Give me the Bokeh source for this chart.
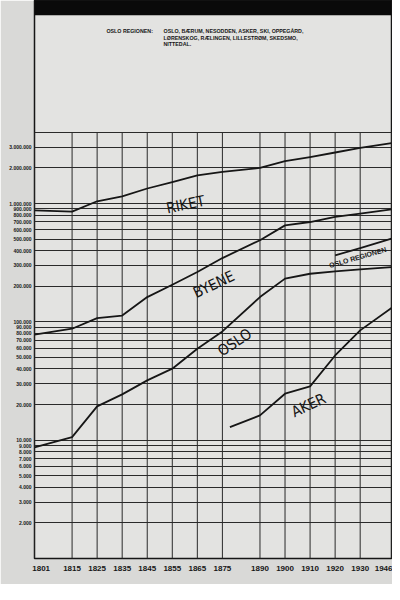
from bokeh.plotting import figure
from bokeh.models import (ColumnDataSource, FixedTicker, CustomJSTickFormatter,
                          CustomJSTransform, Range1d, BoxAnnotation)
from bokeh.transform import transform
from bokeh.core.properties import value
from bokeh.embed import file_html
from bokeh.resources import INLINE

# ---------------- data ----------------
census_years = [1801, 1815, 1825, 1835, 1845, 1855, 1865, 1875,
                1890, 1900, 1910, 1920, 1930, 1946]
riket = [875e3, 855e3, 1.045e6, 1.15e6, 1.34e6, 1.52e6, 1.73e6, 1.85e6,
         2.0e6, 2.28e6, 2.47e6, 2.7e6, 2.95e6, 3.24e6]
byene = [78e3, 87.5e3, 107.5e3, 113e3, 162e3, 206e3, 264e3, 346e3,
         490e3, 654e3, 698e3, 770e3, 822e3, 894e3]
oslo = [8.7e3, 10.6e3, 19.3e3, 24.4e3, 32e3, 40.2e3, 59.3e3, 83e3,
        162e3, 232e3, 255e3, 267e3, 278e3, 290e3]
oslo_reg_years = [1920, 1930, 1946]
oslo_reg = [365e3, 420e3, 505e3]
aker_years = [1878, 1890, 1900, 1910, 1920, 1930, 1946]
aker = [12.9e3, 16.2e3, 24.7e3, 28.5e3, 52e3, 84.7e3, 131e3]

y_grid_values = [m * 10 ** e for e in (3, 4, 5) for m in range(1, 10)] + [1e6, 2e6, 3e6, 4e6]
y_label_values = [v for v in y_grid_values if y_grid_values[0] < v < y_grid_values[-1]]

header_title = "OSLO REGIONEN:"
header_lines = ["OSLO, BÆRUM, NESODDEN, ASKER, SKI, OPPEGÅRD,",
                "LØRENSKOG, RÆLINGEN, LILLESTRØM, SKEDSMO,",
                "NITTEDAL."]
series_labels = ["RIKET", "BYENE", "OSLO", "AKER"]
region_label = "OSLO REGIONEN"

# ---------------- layout / style ----------------
PAPER = "#e3e3e1"
MARGIN = "#d9d9d7"
INK = "#161616"
GRID = "#2a2a2a"
SANS = "Liberation Sans, sans-serif"
LETTER = "DejaVu Sans Condensed, DejaVu Sans, sans-serif"
SHEET_TOP = 3.9e7      # upper edge of the photographed sheet
VIEW_TOP = 5.2e7       # top of the picture

# census columns: 10-year steps are one column, longer steps wider
col_gaps = [1.5, 1, 1, 1, 1, 1, 1, 1.5, 1, 1, 1, 1, 1.25]
col_pos = [0.0]
for g in col_gaps:
    col_pos.append(col_pos[-1] + g)

year_scale = CustomJSTransform(
    args=dict(years=census_years, pos=col_pos),
    func="""
        const n = years.length; let i = 0;
        while (i < n - 2 && x > years[i + 1]) i++;
        return pos[i] + (x - years[i]) / (years[i + 1] - years[i]) * (pos[i + 1] - pos[i]);
    """,
    v_func="""
        const n = years.length;
        const out = new Float64Array(xs.length);
        for (let k = 0; k < xs.length; k++) {
            const v = xs[k]; let i = 0;
            while (i < n - 2 && v > years[i + 1]) i++;
            out[k] = pos[i] + (v - years[i]) / (years[i + 1] - years[i]) * (pos[i + 1] - pos[i]);
        }
        return out;
    """)

p = figure(width=392, height=584,
           x_range=Range1d(0, col_pos[-1]), y_range=Range1d(1000, VIEW_TOP),
           y_axis_type="log", output_backend="svg", toolbar_location=None,
           min_border_left=34, min_border_right=1, min_border_top=0, min_border_bottom=26,
           background_fill_color=PAPER, border_fill_color=MARGIN,
           outline_line_color=INK, outline_line_width=1.5)

# dark strip above the photographed sheet
p.add_layout(BoxAnnotation(bottom=SHEET_TOP, fill_color="#0a0a0a", fill_alpha=1.0,
                           line_color=None))

# horizontal grid (log), vertical grid only inside the chart body
p.xgrid.visible = False
p.ygrid.ticker = FixedTicker(ticks=y_grid_values)
p.ygrid.grid_line_color = GRID
p.ygrid.grid_line_width = 1

grid_src = ColumnDataSource(dict(year=census_years,
                                 lo=[y_grid_values[0]] * len(census_years),
                                 hi=[y_grid_values[-1]] * len(census_years)))
p.segment(x0=transform("year", year_scale), y0="lo",
          x1=transform("year", year_scale), y1="hi",
          source=grid_src, line_color=GRID, line_width=1)

# axes
xa = p.xaxis[0]
xa.ticker = FixedTicker(ticks=col_pos)
xa.formatter = CustomJSTickFormatter(args=dict(years=census_years, pos=col_pos), code="""
    let b = 0;
    for (let i = 0; i < pos.length; i++) if (Math.abs(pos[i] - tick) < Math.abs(pos[b] - tick)) b = i;
    const fs = '\\u2007';
    const s = String(years[b]);
    if (b === 0) return fs + fs + fs + s;
    return s;
""")
xa.axis_line_color = None
xa.major_tick_line_color = None
xa.minor_tick_line_color = None
xa.major_tick_out = 0
xa.major_tick_in = 0
xa.major_label_standoff = 5
xa.major_label_text_font = SANS
xa.major_label_text_font_style = "bold"
xa.major_label_text_font_size = "8px"
xa.major_label_text_color = INK

ya = p.yaxis[0]
ya.ticker = FixedTicker(ticks=y_label_values)
ya.formatter = CustomJSTickFormatter(code=r"""
    return Math.round(tick).toString().replace(/\B(?=(\d{3})+(?!\d))/g, '.');
""")
ya.axis_line_color = None
ya.major_tick_line_color = None
ya.minor_tick_line_color = None
ya.major_tick_out = 0
ya.major_tick_in = 0
ya.major_label_standoff = 3
ya.major_label_text_font = SANS
ya.major_label_text_font_style = "bold"
ya.major_label_text_font_size = "5px"
ya.major_label_text_color = INK

# series
src = ColumnDataSource(dict(year=census_years, riket=riket, byene=byene, oslo=oslo))
for col in ("riket", "byene", "oslo"):
    p.line(x=transform("year", year_scale), y=col, source=src,
           line_color=INK, line_width=1.8, line_join="round")
p.line(x=transform("year", year_scale), y="v",
       source=ColumnDataSource(dict(year=oslo_reg_years, v=oslo_reg)),
       line_color=INK, line_width=1.8, line_join="round")
p.line(x=transform("year", year_scale), y="v",
       source=ColumnDataSource(dict(year=aker_years, v=aker)),
       line_color=INK, line_width=1.8, line_join="round")

# series labels
lab_src = ColumnDataSource(dict(year=[1860.3, 1871.6, 1879.9, 1909.4],
                                v=[979e3, 207e3, 67e3, 19.7e3],
                                text=series_labels,
                                angle=[0.2, 0.44, 0.58, 0.44]))
p.text(x=transform("year", year_scale), y="v", text="text", angle="angle", source=lab_src,
       text_font=value(LETTER), text_font_size="15px", text_color=INK,
       text_align="center", text_baseline="middle")
p.text(x=transform("year", year_scale), y="v", text="text", angle=0.28,
       source=ColumnDataSource(dict(year=[1929.0], v=[350e3], text=[region_label])),
       text_font=value(SANS), text_font_style="bold", text_font_size="7px",
       text_color=INK, text_align="center", text_baseline="middle")

# header note
p.text(x=[2.87], y=[28.9e6], text=[header_title],
       text_font=value(SANS), text_font_style="bold", text_font_size="5.3px",
       text_color=INK, text_align="left", text_baseline="middle")
p.text(x=[5.15] * 3, y=[28.9e6, 25.2e6, 22.1e6], text=header_lines,
       text_font=value(SANS), text_font_style="bold", text_font_size="5.3px",
       text_color=INK, text_align="left", text_baseline="middle")

open("out.html", "w").write(file_html(p, INLINE))
